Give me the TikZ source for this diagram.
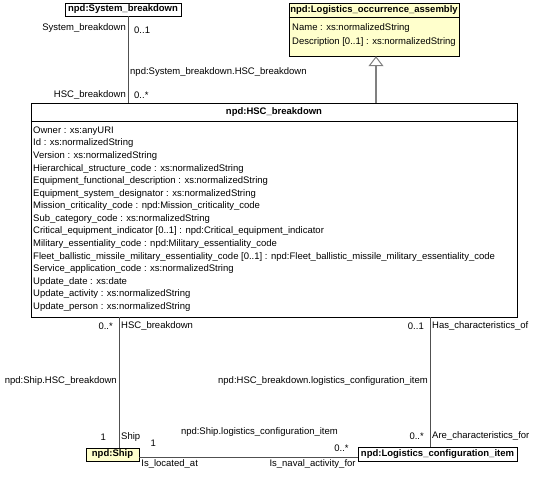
\documentclass[tikz,border=0pt]{standalone}
\usepackage{fontspec}
\setmainfont{Liberation Sans}
\usetikzlibrary{arrows.meta}
\definecolor{umlyellow}{HTML}{FFFFCC}
\definecolor{umlline}{HTML}{505050}

\begin{document}
\begin{tikzpicture}[x=1pt,y=-1pt,
  every node/.style={font=\fontsize{9.5}{12}\selectfont},
  cls/.style={draw, inner sep=0pt, fill=white},
  lbl/.style={inner sep=2pt},
  mult/.style={inner sep=6pt},
  attr/.style={anchor=base west, inner sep=0pt},
  assoc/.style={draw=umlline},
  gen/.style={draw=gray, line width=1.5pt, -{Triangle[open,length=10pt,width=15pt,line width=1pt]}}]
\useasboundingbox (0,0) rectangle (537,477);

% classes
\node[cls, minimum width=116pt, minimum height=13pt] (sysb) at (123,9.5) {\bfseries npd:System\_breakdown};

\node[cls, fill=umlyellow, minimum width=170pt, minimum height=53pt] (loa) at (374,29.5) {};
\node (loat) at (374,10) {\bfseries npd:Logistics\_occurrence\_assembly};
\draw ([yshift=-14pt]loa.north west) -- ([yshift=-14pt]loa.north east);
\node[attr] (loa1) at (292,30.4) {Name : xs:normalizedString};
\node[attr] (loa2) at (292,44.4) {Description [0..1] : xs:normalizedString};

\node[cls, minimum width=486pt, minimum height=214pt] (hsc) at (274,210) {};
\node (hsct) at (274,112) {\bfseries npd:HSC\_breakdown};
\draw ([yshift=-18pt]hsc.north west) -- ([yshift=-18pt]hsc.north east);
\foreach \a [count=\i] in {Owner : xs:anyURI,
  Id : xs:normalizedString,
  Version : xs:normalizedString,
  Hierarchical\_structure\_code : xs:normalizedString,
  Equipment\_functional\_description : xs:normalizedString,
  Equipment\_system\_designator : xs:normalizedString,
  Mission\_criticality\_code : npd:Mission\_criticality\_code,
  Sub\_category\_code : xs:normalizedString,
  Critical\_equipment\_indicator [0..1] : npd:Critical\_equipment\_indicator,
  Military\_essentiality\_code : npd:Military\_essentiality\_code,
  Fleet\_ballistic\_missile\_military\_essentiality\_code [0..1] : npd:Fleet\_ballistic\_missile\_military\_essentiality\_code,
  Service\_application\_code : xs:normalizedString,
  Update\_date : xs:date,
  Update\_activity : xs:normalizedString,
  Update\_person : xs:normalizedString}
  \node[attr] (hsc\i) at (33,120.8+12.57*\i) {\a};

\node[cls, fill=umlyellow, minimum width=53pt, minimum height=13pt] (ship) at (112.5,454.5) {\bfseries npd:Ship};
\node[cls, minimum width=159pt, minimum height=14pt] (lci) at (437.5,454) {\bfseries npd:Logistics\_configuration\_item};

% associations
\draw[assoc] ([xshift=5pt]sysb.south) --
  node[lbl, pos=.14, left] {System\_breakdown}
  node[mult, pos=.16, right] {0..1}
  node[lbl, pos=.64, right] {npd:System\_breakdown.HSC\_breakdown}
  node[lbl, pos=.91, left] {HSC\_breakdown}
  node[mult, pos=.91, right] {0..*}
  ([xshift=5pt]sysb.south |- hsc.north);

\draw[gen] ([xshift=2pt]loa.south |- hsc.north) -- ([xshift=2pt]loa.south);

\draw[assoc] ([xshift=6.5pt]ship.north |- hsc.south) --
  node[mult, pos=.07, left] {0..*}
  node[lbl, pos=.07, right] {HSC\_breakdown}
  node[lbl, pos=.49, left] {npd:Ship.HSC\_breakdown}
  node[mult, pos=.92, left, xshift=-7pt] {1}
  node[lbl, pos=.92, right] {Ship}
  ([xshift=6.5pt]ship.north);

\draw[assoc] ([yshift=-2.5pt]ship.east) --
  node[lbl, pos=0, below right] {Is\_located\_at}
  node[pos=.064, above=10pt, inner sep=0pt] {1}
  node[pos=.55, above=20pt, inner sep=0pt] {npd:Ship.logistics\_configuration\_item}
  node[pos=1, anchor=south east, inner sep=0pt, xshift=-9pt, yshift=5.6pt] {0..*}
  node[lbl, pos=1, below left] {Is\_naval\_activity\_for}
  ([yshift=-2.5pt]ship.east -| lci.west);

\draw[assoc] ([xshift=-7.5pt]lci.north |- hsc.south) --
  node[mult, pos=.07, left] {0..1}
  node[lbl, pos=.07, right] {Has\_characteristics\_of}
  node[lbl, pos=.49, left] {npd:HSC\_breakdown.logistics\_configuration\_item}
  node[mult, pos=.915, left] {0..*}
  node[lbl, pos=.915, right] {Are\_characteristics\_for}
  ([xshift=-7.5pt]lci.north);
\end{tikzpicture}
\end{document}
